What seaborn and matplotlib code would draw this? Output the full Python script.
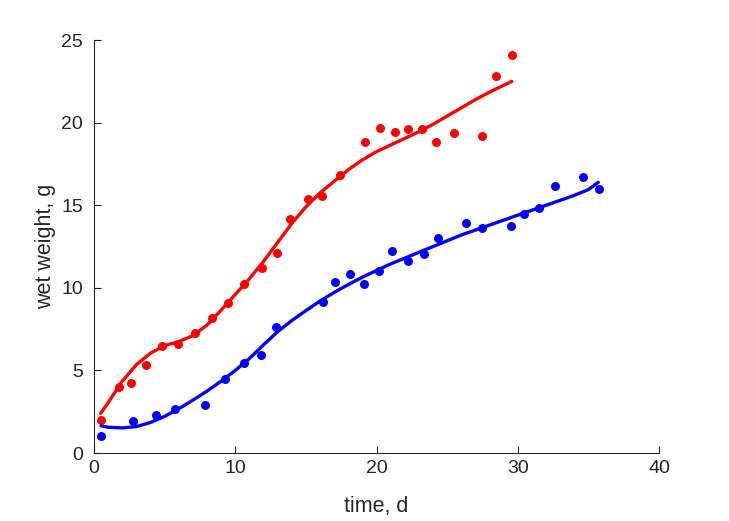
import matplotlib
matplotlib.use("Agg")
import matplotlib.pyplot as plt
import seaborn as sns
import numpy as np

# red series (observations)
t_red = [0.47, 1.74, 2.62, 3.68, 4.81, 5.95, 7.17, 8.33, 9.46, 10.64, 11.91, 12.98,
         13.88, 15.15, 16.14, 17.42, 19.19, 20.28, 21.28, 22.23, 23.2, 24.23, 25.49,
         27.49, 28.43, 29.59]
w_red = [2.0, 4.01, 4.26, 5.35, 6.5, 6.62, 7.26, 8.15, 9.1, 10.25, 11.2, 12.09,
         14.16, 15.38, 15.56, 16.83, 18.81, 19.7, 19.43, 19.63, 19.59, 18.85, 19.37,
         19.21, 22.8, 24.07]

# blue series (observations)
t_blue = [0.5, 2.74, 4.37, 5.76, 7.86, 9.27, 10.62, 11.82, 12.91, 16.19, 17.09, 18.12,
          19.09, 20.15, 21.08, 22.26, 23.36, 24.33, 26.32, 27.45, 29.5, 30.47, 31.49,
          32.64, 34.62, 35.75]
w_blue = [1.05, 1.94, 2.3, 2.64, 2.9, 4.46, 5.43, 5.91, 7.61, 9.16, 10.35, 10.84,
          10.21, 11.03, 12.25, 11.6, 12.07, 13.01, 13.9, 13.62, 13.72, 14.47, 14.81,
          16.18, 16.69, 15.98]

# fitted curves
ft_red = [0.47, 1.0, 2.0, 3.0, 4.0, 5.0, 6.0, 7.0, 8.0, 9.0, 10.0, 11.0, 12.0, 13.0,
          14.0, 15.0, 16.0, 17.0, 18.0, 19.0, 20.0, 21.0, 22.0, 23.0, 24.0, 25.0,
          26.0, 27.0, 28.0, 29.57]
fw_red = [2.4, 3.05, 4.35, 5.35, 6.05, 6.5, 6.75, 7.1, 7.75, 8.65, 9.6, 10.55, 11.6,
          12.75, 13.9, 14.9, 15.75, 16.45, 17.15, 17.75, 18.25, 18.65, 19.05, 19.45,
          19.9, 20.4, 20.9, 21.4, 21.85, 22.5]

ft_blue = [0.5, 1.0, 2.0, 3.0, 4.0, 5.0, 6.0, 7.0, 8.0, 9.0, 10.0, 11.0, 12.0, 13.0,
           14.0, 15.0, 16.0, 17.0, 18.0, 19.0, 20.0, 21.0, 22.0, 23.0, 24.0, 25.0,
           26.0, 27.0, 28.0, 29.0, 30.0, 31.0, 32.0, 33.0, 34.0, 35.0, 35.7]
fw_blue = [1.65, 1.56, 1.52, 1.6, 1.85, 2.22, 2.68, 3.2, 3.75, 4.35, 5.0, 5.72, 6.55,
           7.35, 8.02, 8.62, 9.2, 9.72, 10.2, 10.65, 11.05, 11.45, 11.8, 12.15, 12.5,
           12.85, 13.2, 13.5, 13.8, 14.1, 14.4, 14.7, 15.0, 15.3, 15.6, 15.95, 16.39]

sns.set_style("white")
plt.rcParams["font.family"] = ["Liberation Sans", "DejaVu Sans"]

fig = plt.figure(figsize=(7.29, 5.21), dpi=100)
ax = fig.add_axes([0.129, 0.1305, 0.775, 0.7925])

sns.lineplot(x=ft_red, y=fw_red, color="red", lw=2.4, ax=ax, sort=False)
sns.lineplot(x=ft_blue, y=fw_blue, color="blue", lw=2.4, ax=ax, sort=False)
sns.scatterplot(x=t_red, y=w_red, color="red", s=42, linewidth=0, ax=ax)
sns.scatterplot(x=t_blue, y=w_blue, color="blue", s=42, linewidth=0, ax=ax)

ax.set_xlim(0, 40)
ax.set_ylim(0, 25)
ax.set_xticks([0, 10, 20, 30, 40])
ax.set_yticks([0, 5, 10, 15, 20, 25])
ax.set_xlabel("time, d", fontsize=15.5, color="#262626", labelpad=14)
ax.set_ylabel("wet weight, g", fontsize=15.5, color="#262626", labelpad=4)
ax.tick_params(direction="in", length=5, width=0.8, labelsize=14,
               colors="#262626", bottom=True, left=True)
ax.tick_params(axis="x", pad=5)
ax.tick_params(axis="y", pad=8)
sns.despine(ax=ax)
for s in ["left", "bottom"]:
    ax.spines[s].set_color("#262626")
    ax.spines[s].set_linewidth(0.8)

fig.savefig("out.png", dpi=100)
